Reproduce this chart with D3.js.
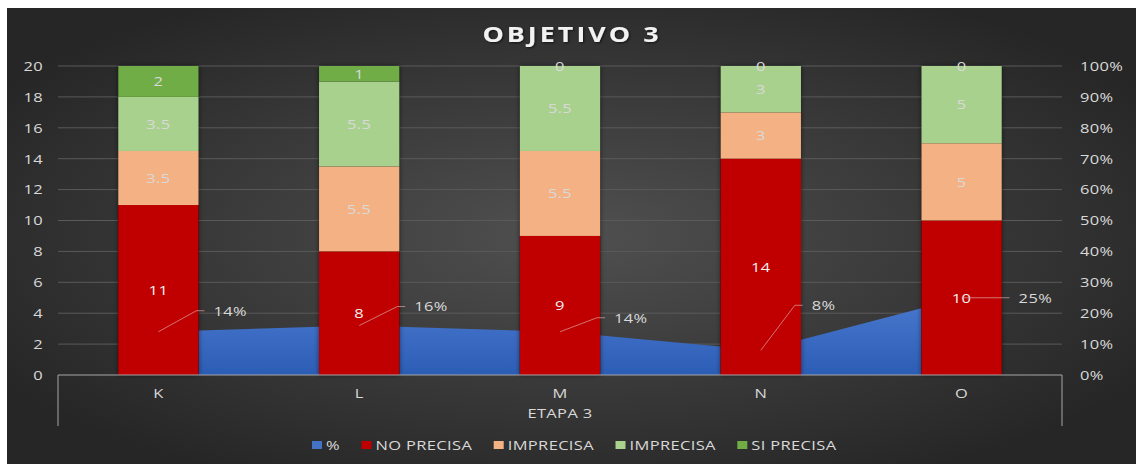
<!DOCTYPE html>
<html>
<head>
<meta charset="utf-8">
<script src="https://cdn.jsdelivr.net/npm/d3@7.9.0/dist/d3.min.js"></script>
<style>
  html, body { margin: 0; padding: 0; background: #fff; }
  svg { display: block; }
  text { font-family: "Open Sans", "Noto Sans", sans-serif; }
</style>
</head>
<body>
<svg id="chart" width="1136" height="464"></svg>
<script>
// data
const categories = ['K', 'L', 'M', 'N', 'O'];
const groupLabel = 'ETAPA 3';
const noPrecisa = [11, 8, 9, 14, 10];
const imprecisaA = [3.5, 5.5, 5.5, 3, 5];
const imprecisaB = [3.5, 5.5, 5.5, 3, 5];
const siPrecisa = [2, 1, 0, 0, 0];
const pct = [0.14, 0.16, 0.14, 0.08, 0.25];
const leftTicks = [0, 2, 4, 6, 8, 10, 12, 14, 16, 18, 20];
const rightTicks = [0, 0.1, 0.2, 0.3, 0.4, 0.5, 0.6, 0.7, 0.8, 0.9, 1];

const seriesNames = ['NO PRECISA', 'IMPRECISA', 'IMPRECISA', 'SI PRECISA'];
const seriesColors = ['#c00000', '#f4b183', '#a9d18e', '#70ad47'];
const labelColors = ['#f2f2f2', '#d9d9d9', '#d9d9d9', '#d9d9d9'];
// pixel nudges for the % labels (annotation placement)
const labelNudge = [[46, -21], [46, -19], [45, -14], [42, -45], [48, 0]];

const SX = 1.22; // reference text is stretched horizontally

const svg = d3.select('#chart');
const W = 1136, H = 464;
const margin = { top: 66, right: 74, bottom: 89, left: 58 };
const plotW = W - margin.left - margin.right;
const plotH = H - margin.top - margin.bottom;

// text helper: places text at (x, y) with horizontal stretch
function label(sel, x, y, str, opts = {}) {
  return sel.append('text')
    .attr('transform', `translate(${x},${y}) scale(${SX},1)`)
    .attr('dy', '0.36em')
    .attr('text-anchor', opts.anchor || 'middle')
    .attr('font-size', opts.size || 13.5)
    .attr('font-weight', opts.weight || 'normal')
    .attr('letter-spacing', opts.spacing || '0.3px')
    .attr('fill', opts.fill || '#d9d9d9')
    .text(str);
}

const defs = svg.append('defs');
const bg = defs.append('radialGradient').attr('id', 'bg')
  .attr('cx', '50%').attr('cy', '50%').attr('r', '60%');
bg.append('stop').attr('offset', '0%').attr('stop-color', '#505050');
bg.append('stop').attr('offset', '100%').attr('stop-color', '#262626');

const areaGrad = defs.append('linearGradient').attr('id', 'areaGrad')
  .attr('x1', 0).attr('y1', 0).attr('x2', 0).attr('y2', 1);
areaGrad.append('stop').attr('offset', '0%').attr('stop-color', '#4a78cf');
areaGrad.append('stop').attr('offset', '100%').attr('stop-color', '#2c5db5');

const shadow = defs.append('filter').attr('id', 'shadow')
  .attr('x', '-20%').attr('y', '-5%').attr('width', '140%').attr('height', '110%');
shadow.append('feDropShadow').attr('dx', 0).attr('dy', 0).attr('stdDeviation', 2.5)
  .attr('flood-color', '#000').attr('flood-opacity', 0.55);

const titleShadow = defs.append('filter').attr('id', 'tshadow');
titleShadow.append('feDropShadow').attr('dx', 1).attr('dy', 1).attr('stdDeviation', 1)
  .attr('flood-color', '#000').attr('flood-opacity', 0.6);

// background (white strip at top / left like the reference)
svg.append('rect').attr('x', 7).attr('y', 8).attr('width', W - 7).attr('height', H - 8)
  .attr('fill', 'url(#bg)');

const g = svg.append('g').attr('transform', `translate(${margin.left},${margin.top})`);

const band = d3.scaleBand().domain(categories).range([0, plotW]);
const cx = d => band(d) + band.bandwidth() / 2;
const y = d3.scaleLinear().domain([0, 20]).range([plotH, 0]);
const y2 = d3.scaleLinear().domain([0, 1]).range([plotH, 0]);

// gridlines
g.append('g').selectAll('line').data(leftTicks.slice(1)).join('line')
  .attr('x1', 0).attr('x2', plotW)
  .attr('y1', d => y(d)).attr('y2', d => y(d))
  .attr('stroke', '#5a5a5a').attr('stroke-width', 1);

// area series (% on secondary axis)
const areaData = categories.map((c, i) => ({ c, v: pct[i] }));
const area = d3.area().x(d => cx(d.c)).y0(y2(0)).y1(d => y2(d.v));
g.append('path').datum(areaData).attr('d', area).attr('fill', 'url(#areaGrad)');

// stacked bars
const rows = categories.map((c, i) => ({ c, s0: noPrecisa[i], s1: imprecisaA[i], s2: imprecisaB[i], s3: siPrecisa[i] }));
const stack = d3.stack().keys(['s0', 's1', 's2', 's3']);
const stacked = stack(rows);
const bw = band.bandwidth() * 0.4;

const barsG = g.append('g');
rows.forEach(r => {
  const sum = r.s0 + r.s1 + r.s2 + r.s3;
  barsG.append('rect')
    .attr('x', cx(r.c) - bw / 2).attr('width', bw)
    .attr('y', y(sum)).attr('height', y(0) - y(sum))
    .attr('fill', '#000').attr('filter', 'url(#shadow)');
});
stacked.forEach((layer, k) => {
  barsG.append('g').selectAll('rect').data(layer).join('rect')
    .attr('x', d => cx(d.data.c) - bw / 2).attr('width', bw)
    .attr('y', d => y(d[1])).attr('height', d => y(d[0]) - y(d[1]))
    .attr('fill', seriesColors[k]);
});

// bar value labels
const valG = g.append('g');
stacked.forEach((layer, k) => {
  layer.forEach(d => {
    const v = d[1] - d[0];
    if (v === 0 && k < 3) return;
    label(valG, cx(d.data.c), y((d[0] + d[1]) / 2), v, { fill: labelColors[k] });
  });
});

// % labels with leader lines
areaData.forEach((d, i) => {
  const px = cx(d.c), py = y2(d.v);
  const [dx, dy] = labelNudge[i];
  const lx = px + dx, ly = py + dy;
  const pts = dy === 0 ? [[px, py], [lx, ly]] : [[px, py], [lx - 8, ly], [lx, ly]];
  g.append('path').attr('d', d3.line()(pts))
    .attr('fill', 'none').attr('stroke', '#d9a0a0').attr('stroke-width', 0.8)
    .attr('opacity', 0.9);
  label(g, lx + 9, ly, d3.format('.0%')(d.v), { anchor: 'start' });
});

// left axis
const axL = g.append('g');
leftTicks.forEach(t => label(axL, -15, y(t), t, { anchor: 'end' }));

// right axis
const axR = g.append('g');
rightTicks.forEach(t => label(axR, plotW + 18, y2(t), d3.format('.0%')(t), { anchor: 'start' }));

// category axis with group bracket
const axisG = g.append('g');
axisG.append('line').attr('x1', 0).attr('x2', plotW).attr('y1', plotH).attr('y2', plotH)
  .attr('stroke', '#a6a6a6').attr('stroke-width', 1);
axisG.append('line').attr('x1', 0).attr('x2', 0).attr('y1', plotH).attr('y2', plotH + 51)
  .attr('stroke', '#a6a6a6').attr('stroke-width', 1);
axisG.append('line').attr('x1', plotW).attr('x2', plotW).attr('y1', plotH).attr('y2', plotH + 51)
  .attr('stroke', '#a6a6a6').attr('stroke-width', 1);
categories.forEach(c => label(axisG, cx(c), plotH + 18, c));
label(axisG, plotW / 2, plotH + 38, groupLabel);

// title
label(svg, 572, 34, 'OBJETIVO 3', { size: 22, weight: 'bold', spacing: '2.5px', fill: '#f2f2f2' })
  .attr('filter', 'url(#tshadow)');

// legend
const legendItems = [{ name: '%', color: '#4472c4' }].concat(seriesNames.map((n, i) => ({ name: n, color: seriesColors[i] })));
const legend = svg.append('g').attr('transform', 'translate(0,445)');
let lx = 312;
legendItems.forEach(it => {
  legend.append('rect').attr('x', lx).attr('y', -4).attr('width', 10).attr('height', 8).attr('fill', it.color);
  const t = label(legend, lx + 14, 0, it.name, { anchor: 'start' });
  lx += 14 + t.node().getComputedTextLength() * SX + 21.5;
});
</script>
</body>
</html>
